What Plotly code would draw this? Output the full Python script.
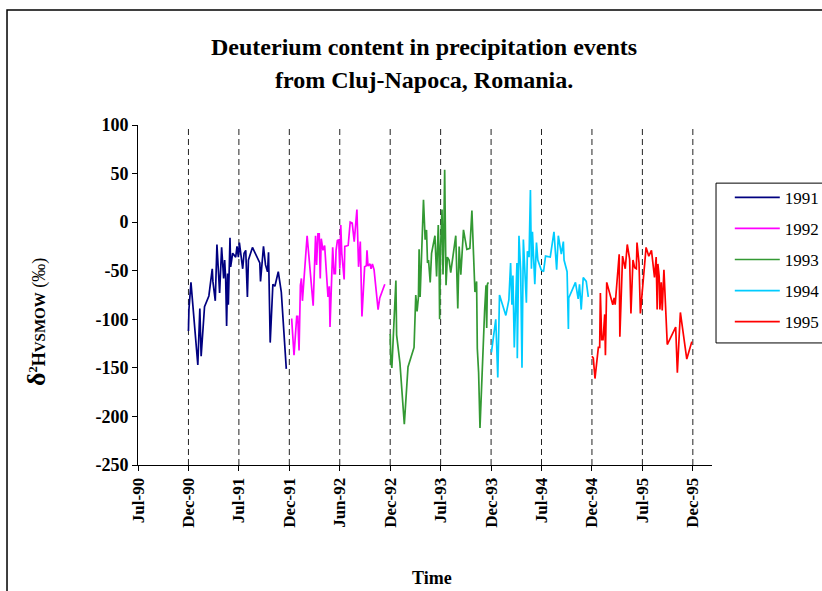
import plotly.graph_objects as go

# ---------------- data ----------------
tick_labels = ["Jul-90", "Dec-90", "Jul-91", "Dec-91", "Jun-92", "Dec-92",
               "Jul-93", "Dec-93", "Jul-94", "Dec-94", "Jul-95", "Dec-95"]
tick_pos = list(range(len(tick_labels)))
divider_pos = tick_pos[1:]

y_tick_vals = [100, 50, 0, -50, -100, -150, -200, -250]
y_tick_text = ["100", "50", "0", "-50", "-100", "-150", "-200", "-250"]

series_names = ["1991", "1992", "1993", "1994", "1995"]

x91 = [1.00, 1.01, 1.05, 1.186, 1.226, 1.252, 1.319, 1.405, 1.472, 1.485, 1.532, 1.565, 1.618,
       1.658, 1.698, 1.718, 1.738, 1.757, 1.777, 1.791, 1.824, 1.837, 1.877, 1.937, 1.963, 1.990,
       2.010, 2.050, 2.076, 2.103, 2.136, 2.169, 2.189, 2.269, 2.415, 2.429, 2.488, 2.528, 2.568,
       2.588, 2.621, 2.674, 2.714, 2.781, 2.841, 2.940]
y91 = [-112, -90, -62, -147, -89, -138, -87, -76, -48, -61, -81, -23, -73,
       -26, -58, -39, -58, -107, -53, -85, -16, -46, -32, -36, -25, -36,
       -21, -36, -48, -32, -29, -77, -39, -26, -42, -61, -25, -44, -51,
       -31, -124, -64, -66, -51, -72, -151]

x92 = [3.033, 3.047, 3.093, 3.147, 3.167, 3.193, 3.22, 3.24, 3.26, 3.353, 3.473, 3.52, 3.54,
       3.567, 3.593, 3.613, 3.633, 3.667, 3.7, 3.74, 3.767, 3.793, 3.807, 3.86, 3.887, 3.913,
       3.927, 3.953, 3.98, 4.0, 4.02, 4.04, 4.087, 4.1, 4.167, 4.207, 4.247, 4.287, 4.34, 4.373,
       4.407, 4.44, 4.493, 4.527, 4.54, 4.56, 4.6, 4.62, 4.647, 4.68, 4.72, 4.76, 4.793, 4.893]
y92 = [-100, -100, -137, -97, -97, -132, -65, -58, -81, -14, -86, -14, -44,
       -12, -12, -58, -17, -29, -24, -63, -77, -66, -108, -26, -53, -53,
       -29, -19, -18, -48, -3, -32, -59, -25, -24, 0, -1, -20, 13, -46,
       -20, -97, -46, -45, -29, -45, -43, -48, -43, -49, -72, -90, -78, -64]

x93 = [5.0, 5.013, 5.033, 5.073, 5.113, 5.127, 5.193, 5.28, 5.353, 5.473, 5.507, 5.533, 5.56,
       5.573, 5.593, 5.66, 5.693, 5.72, 5.74, 5.76, 5.793, 5.82, 5.887, 5.92, 5.953, 5.967,
       5.98, 6.0, 6.027, 6.047, 6.06, 6.08, 6.107, 6.133, 6.167, 6.2, 6.233, 6.3, 6.34, 6.367,
       6.4, 6.453, 6.52, 6.58, 6.62, 6.68, 6.713, 6.727, 6.753, 6.78, 6.873, 6.9, 6.913, 6.927, 6.947]
y93 = [-115, -143, -150, -110, -60, -116, -145, -208, -149, -129, -75, -92, -77,
       -28, -77, 23, -18, -8, -42, -39, -62, -32, -14, -56, -3, -29,
       -100, -24, 13, -54, -25, 54, -65, -36, -39, -52, -41, -14, -89, -25,
       -54, -8, -28, -27, 12, -72, -61, -130, -155, -212, -90, -65, -109, -64, -62]

x94 = [7.007, 7.093, 7.133, 7.167, 7.293, 7.353, 7.387, 7.413, 7.433, 7.46, 7.513, 7.52, 7.553,
       7.587, 7.613, 7.64, 7.7, 7.72, 7.753, 7.78, 7.8, 7.82, 7.867, 7.9, 7.927, 7.993, 8.04,
       8.08, 8.173, 8.247, 8.3, 8.333, 8.393, 8.433, 8.447, 8.507, 8.533, 8.54, 8.673, 8.727,
       8.753, 8.787, 8.827, 8.887, 8.927]
y94 = [-134, -100, -160, -75, -96, -80, -42, -85, -55, -129, -42, -140, -14,
       -50, -150, -18, -83, -30, -36, 33, -48, -10, -64, -21, -39, -49, -51,
       -35, -36, -10, -49, -14, -33, -20, -39, -51, -110, -78, -62, -79,
       -64, -90, -57, -61, -77]

x95 = [9.0, 9.027, 9.06, 9.127, 9.153, 9.167, 9.193, 9.22, 9.253, 9.267, 9.293, 9.413, 9.44,
       9.46, 9.54, 9.553, 9.607, 9.66, 9.7, 9.747, 9.773, 9.813, 9.847, 9.88, 9.893, 9.933,
       9.96, 10.073, 10.127, 10.18, 10.24, 10.273, 10.293, 10.307, 10.333, 10.347, 10.373,
       10.38, 10.393, 10.427, 10.493, 10.66, 10.693, 10.753, 10.88, 10.98]
y95 = [-138, -140, -161, -129, -129, -73, -121, -121, -95, -137, -62, -85, -78,
       -85, -33, -118, -35, -48, -23, -38, -94, -39, -47, -48, -21, -42,
       -94, -26, -35, -29, -57, -36, -90, -43, -56, -90, -62, -91, -91, -49,
       -126, -108, -155, -93, -141, -123]

series_x = [x91, x92, x93, x94, x95]
series_y = [y91, y92, y93, y94, y95]
colors = ["#000080", "#FF00FF", "#339933", "#00CCFF", "#FF0000"]

FONT = "Liberation Serif"

fig = go.Figure()
for i, (name, xs, ys) in enumerate(zip(series_names, series_x, series_y)):
    fig.add_trace(go.Scatter(x=xs, y=ys, mode="lines", name=name,
                             legendgroup=name,
                             line=dict(color=colors[i], width=1.7)))

shapes = []
for p in divider_pos:
    shapes.append(dict(type="line", xref="x", yref="y", x0=p, x1=p, y0=-250, y1=100,
                       line=dict(color="#222222", width=1, dash="6px,4px"), layer="below"))
# outer chart border
shapes.append(dict(type="rect", xref="paper", yref="paper", x0=-0.2282, x1=1.35,
                   y0=-0.45, y1=1.338, line=dict(color="black", width=1.5)))
# legend box
shapes.append(dict(type="rect", xref="paper", yref="paper", x0=1.007, x1=1.30,
                   y0=0.359, y1=0.829, line=dict(color="black", width=1)))

annotations = [
    dict(text="<b>Deuterium content in precipitation events</b>", xref="paper", yref="paper",
         x=0.498, y=1.229, xanchor="center", yanchor="middle", showarrow=False,
         font=dict(family=FONT, size=24, color="black")),
    dict(text="<b>from Cluj-Napoca, Romania.</b>", xref="paper", yref="paper",
         x=0.498, y=1.132, xanchor="center", yanchor="middle", showarrow=False,
         font=dict(family=FONT, size=24, color="black")),
    dict(text="<b>Time</b>", xref="paper", yref="paper", x=0.512, y=-0.332,
         xanchor="center", yanchor="middle", showarrow=False,
         font=dict(family=FONT, size=18, color="black")),
    dict(text="<b><span style='font-size:26px'>δ</span><sup>2</sup>H<span style='font-size:15px'>VSMOW</span></b> (‰)",
         xref="paper", yref="paper", x=-0.178, y=0.42, textangle=-90,
         xanchor="center", yanchor="middle", showarrow=False,
         font=dict(family=FONT, size=18, color="black")),
]

fig.update_layout(
    width=822, height=591,
    margin=dict(l=138, r=110, t=125, b=126, autoexpand=False),
    paper_bgcolor="white", plot_bgcolor="white",
    showlegend=True,
    legend=dict(x=1.031, y=0.839, xanchor="left", yanchor="top",
                font=dict(family=FONT, size=17, color="black"),
                bgcolor="rgba(0,0,0,0)", borderwidth=0,
                tracegroupgap=6, itemwidth=45),
    shapes=shapes,
    annotations=annotations,
)
fig.update_xaxes(range=[0, 11.38], tickmode="array", tickvals=tick_pos, ticktext=tick_labels,
                 tickangle=-90, showline=True, linecolor="black", linewidth=1,
                 ticks="outside", ticklen=5, tickcolor="black", showgrid=False, zeroline=False,
                 tickfont=dict(family=FONT, size=17, color="black", weight="bold"))
fig.update_yaxes(range=[-250, 100], tickmode="array", tickvals=y_tick_vals, ticktext=y_tick_text,
                 showline=True, linecolor="black",
                 linewidth=1, ticks="outside", ticklen=5, tickcolor="black",
                 showgrid=False, zeroline=False,
                 tickfont=dict(family=FONT, size=18, color="black", weight="bold"))

fig.write_html("out.html")
